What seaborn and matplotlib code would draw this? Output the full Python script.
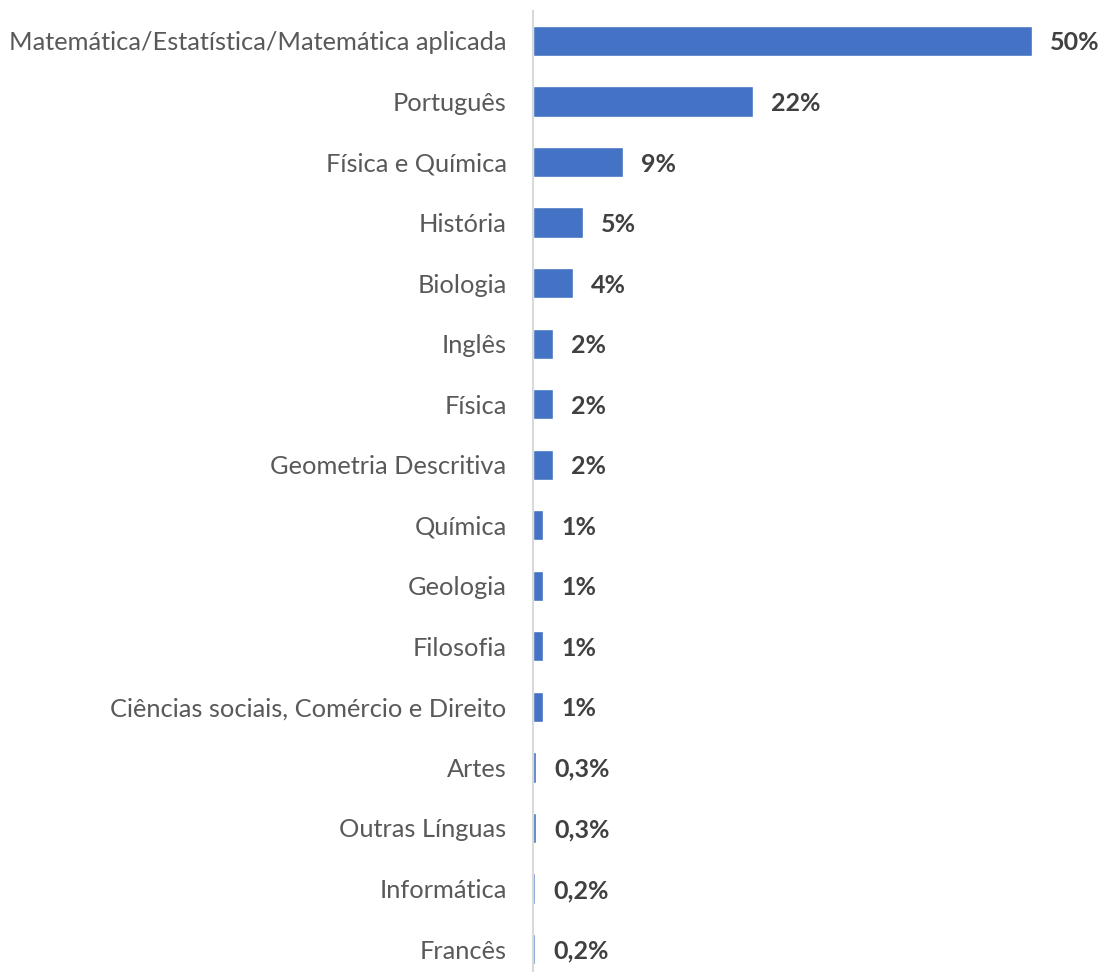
import matplotlib
matplotlib.use("Agg")
import matplotlib.pyplot as plt
import seaborn as sns
import pandas as pd

subjects = [
    "Matemática/Estatística/Matemática aplicada",
    "Português",
    "Física e Química",
    "História",
    "Biologia",
    "Inglês",
    "Física",
    "Geometria Descritiva",
    "Química",
    "Geologia",
    "Filosofia",
    "Ciências sociais, Comércio e Direito",
    "Artes",
    "Outras Línguas",
    "Informática",
    "Francês",
]
shares = [50, 22, 9, 5, 4, 2, 2, 2, 1, 1, 1, 1, 0.3, 0.3, 0.2, 0.2]

df = pd.DataFrame({"subject": subjects, "share": shares})

sns.set_theme(style="white")
plt.rcParams["font.family"] = ["Lato", "DejaVu Sans"]

W, H, DPI = 1104, 972, 100
fig = plt.figure(figsize=(W / DPI, H / DPI), dpi=DPI)

left_px, right_px = 533, 1032
first_c, last_c = 41, 949
step = (last_c - first_c) / (len(subjects) - 1)
top_px = first_c - step / 2
ax = fig.add_axes([left_px / W, 0, (right_px - left_px) / W, 1 - top_px / H])

sns.barplot(data=df, x="share", y="subject", orient="h", color="#4472C4",
            width=0.5, saturation=1, ax=ax)

ax.set_xlim(0, 50)
ax.set_ylim(15 + (H - last_c) / step, -0.5)


def fmt(v):
    if v >= 1:
        return f"{v:.0f}%"
    return f"{v:.1f}%".replace(".", ",")


labels = ax.bar_label(ax.containers[0], labels=[fmt(v) for v in shares],
                      padding=13, fontsize=18, fontweight="bold",
                      color="#404040")
for t in labels:
    t.set_verticalalignment("center_baseline")

ax.set_xlabel("")
ax.set_ylabel("")
ax.set_xticks([])
ax.tick_params(axis="y", length=0, pad=19, labelsize=18.3, labelcolor="#595959")
for s in ("top", "right", "bottom"):
    ax.spines[s].set_visible(False)
ax.spines["left"].set_color("#D9D9D9")
ax.spines["left"].set_linewidth(1.5)

fig.savefig("out.png", dpi=DPI)
